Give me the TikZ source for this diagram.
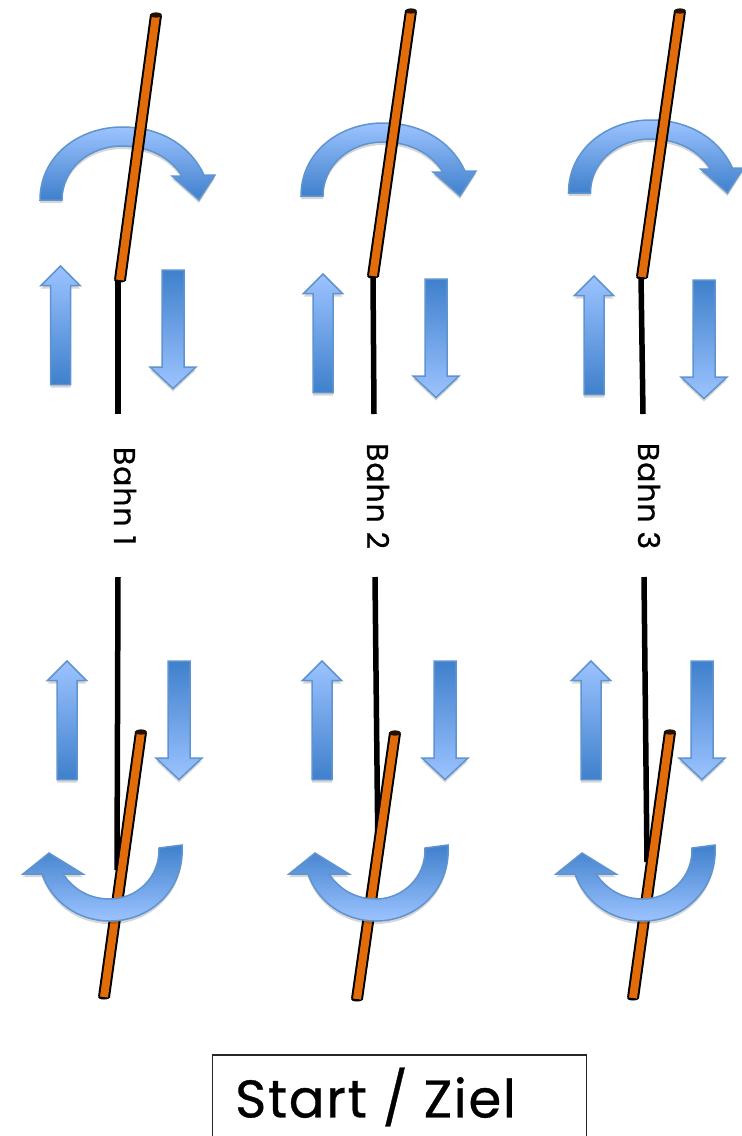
\documentclass[tikz,border=0pt]{standalone}
\usepackage{fontspec}
\setmainfont{Poppins}[FakeBold=0.6,LetterSpace=3]
\definecolor{lightblue}{HTML}{9CC3FF}
\definecolor{darkblue}{HTML}{3F80CC}
\definecolor{edgeblue}{HTML}{5F94CF}
\definecolor{poleorange}{HTML}{E36C0A}
\tikzset{
  x=1pt,y=-1pt,
  bluebase/.style={draw=edgeblue,line width=1.5pt,line join=miter,
    preaction={fill=black,fill opacity=.16,draw=none,transform canvas={yshift=-3pt}}},
  lighttop/.style={bluebase,top color=lightblue,bottom color=darkblue},
  darktop/.style={bluebase,top color=darkblue,bottom color=lightblue},
  wire/.style={draw=black,line width=5.5pt},
  poleedge/.style={draw=black,line width=12pt},
  polefill/.style={draw=poleorange,line width=8pt},
  lanelabel/.style={rotate=-90,font=\fontsize{30}{30}\selectfont,inner sep=0pt},
  startbox/.style={draw=black!85,line width=1.5pt},
  startlabel/.style={font=\fontsize{53}{53}\selectfont,inner sep=0pt,anchor=west}
}
% up arrow: centre x, tip y
\newcommand{\uparr}[2]{\path[lighttop] (#1,#2) -- (#1+19.5,#2+19.5) -- (#1+10,#2+19.5) -- (#1+10,#2+118.5) -- (#1-10,#2+118.5) -- (#1-10,#2+19.5) -- (#1-19.5,#2+19.5) -- cycle;}
% down arrow: centre x, top y
\newcommand{\downarr}[2]{\path[darktop] (#1-11,#2) -- (#1+11,#2) -- (#1+11,#2+97) -- (#1+23,#2+97) -- (#1,#2+118.5) -- (#1-23,#2+97) -- (#1-11,#2+97) -- cycle;}
\newcommand{\toparc}{\path[lighttop] (40,200) .. controls (40,155) and (80,127) .. (122,127) .. controls (160,127) and (190,145) .. (204,175) -- (215,175) -- (199,200) -- (172,176) -- (182,176) .. controls (170,157) and (148,146) .. (122,146) .. controls (90,146) and (62,168) .. (62,200) -- cycle;}
\newcommand{\botarc}{\path[darktop] (182,845) .. controls (185,890) and (150,921) .. (110,921) .. controls (78,921) and (52,902) .. (42,874) -- (23,874) -- (49,853) -- (83,874) -- (63,874) .. controls (74,890) and (90,899) .. (110,899) .. controls (136,899) and (160,878) .. (159,848) -- cycle;}
% pole: top end, bottom end
\newcommand{\pole}[4]{%
  \fill[black] (#3,#4) ellipse [x radius=6pt,y radius=2.5pt];
  \draw[poleedge] (#1,#2) -- (#3,#4);
  \draw[polefill,shorten <=1.5pt,shorten >=0pt] (#1,#2) -- (#3,#4);
  \fill[black!85!poleorange] (#1,#2) ellipse [x radius=6pt,y radius=2.6pt];
}
\begin{document}
\begin{tikzpicture}
\clip (0,0) rectangle (742,1136);
\fill[white] (0,0) rectangle (742,1136);
% Bahn 1
\draw[wire] (118,280) -- (118,414);
\toparc
\pole{156}{15}{120}{280}
\uparr{60.5}{266}
\downarr{173}{270}
\node[lanelabel] (bahn1) at (125,496) {Bahn 1};
\draw[wire] (118,577) -- (117,870);
\pole{141}{732}{104}{997}
\botarc
\uparr{67}{661}
\downarr{179}{661}
% Bahn 2
\draw[wire] (373,276) -- (374,414);
\begin{scope}[shift={(261,-4)}]\toparc\end{scope}
\pole{411}{11}{373}{276}
\uparr{323}{274}
\downarr{436}{279}
\node[lanelabel] (bahn2) at (378,496) {Bahn 2};
\draw[wire] (375,577) -- (378,860);
\pole{395}{733}{357}{999}
\begin{scope}[shift={(266,0)}]\botarc\end{scope}
\uparr{322}{661}
\downarr{445}{661}
% Bahn 3
\draw[wire] (641,276) -- (643,414);
\begin{scope}[shift={(528.5,-7)}]\toparc\end{scope}
\pole{680}{11}{642}{277}
\uparr{594}{276}
\downarr{704}{280}
\node[lanelabel] (bahn3) at (649,496) {Bahn 3};
\draw[wire] (644,577) -- (647,862);
\pole{670}{732}{633}{998}
\begin{scope}[shift={(533,0)}]\botarc\end{scope}
\uparr{591}{661}
\downarr{702}{661}
% Start box
\node[startbox,minimum width=374pt,minimum height=100pt,anchor=north west] (box) at (211.5,1054) {};
\node[startlabel] (start) at (235,1097) {Start / Ziel};
\end{tikzpicture}
\end{document}
